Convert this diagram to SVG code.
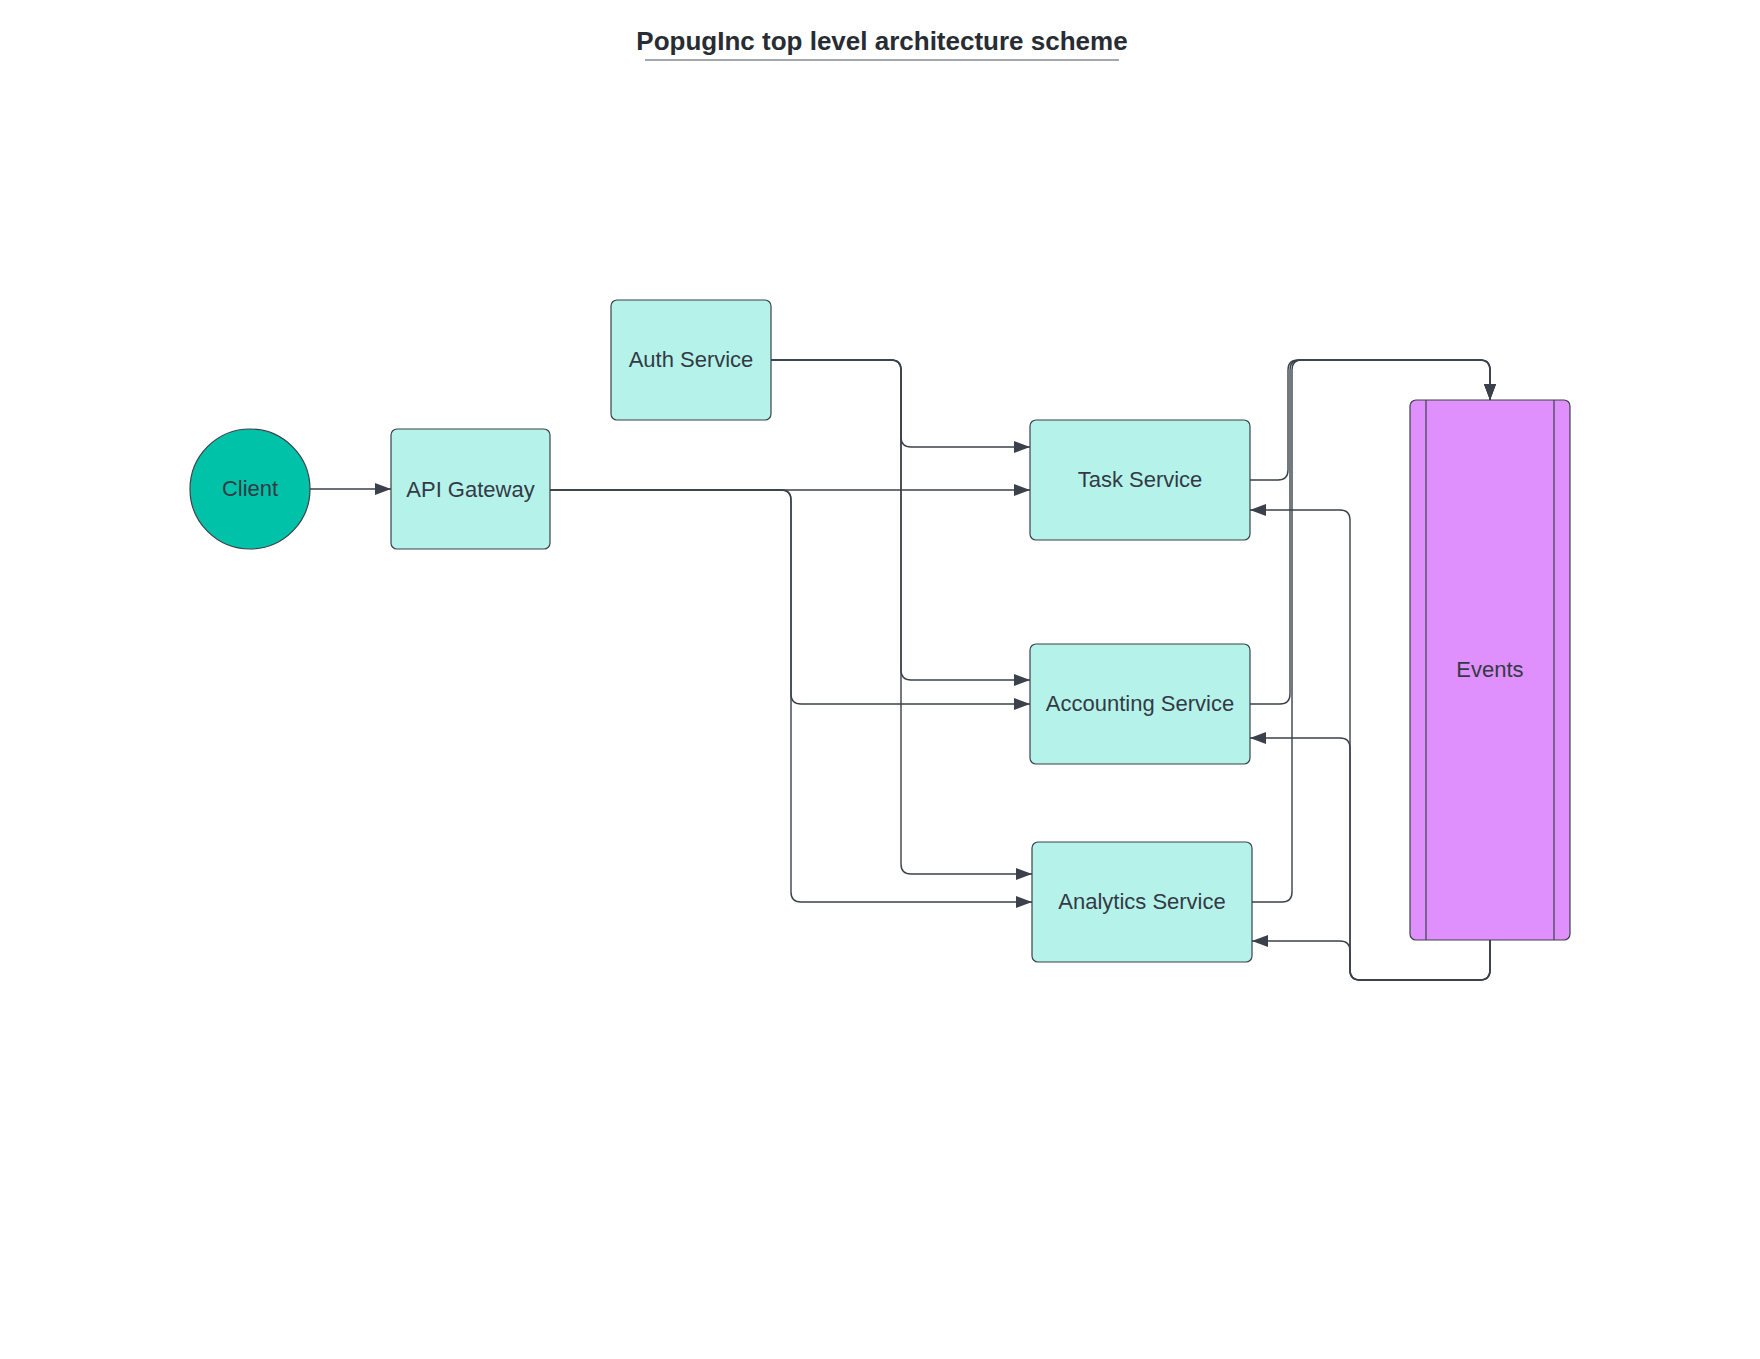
<svg xmlns="http://www.w3.org/2000/svg" width="1760" height="1359" viewBox="0 0 1760 1359">
<style>
.box{fill:#b5f3ea;stroke:#3a414a;stroke-width:1.2}
.lbl{font-family:"Liberation Sans",Arial,sans-serif;font-size:22px;fill:#333a45;text-anchor:middle}
.title{font-family:"Liberation Sans",Arial,sans-serif;font-size:26px;font-weight:bold;fill:#282c33;text-anchor:middle}
.conn{fill:none;stroke:#3a414a;stroke-width:1.4}
</style>
<defs>
<marker id="arr" markerUnits="userSpaceOnUse" markerWidth="17" markerHeight="13" refX="16" refY="6" orient="auto">
<path d="M0,0 L16,6 L0,12 z" fill="#3a414a"/>
</marker>
</defs>
<rect width="1760" height="1359" fill="#ffffff"/>
<g id="title">
<text class="title" x="882" y="50">PopugInc top level architecture scheme</text>
<line x1="645" y1="60" x2="1119" y2="60" stroke="#a3a8b0" stroke-width="2"/>
</g>
<g id="connectors">
<path class="conn" marker-end="url(#arr)" d="M310,489 L391,489"/>
<path class="conn" marker-end="url(#arr)" d="M550,490 L1030,490"/>
<path class="conn" marker-end="url(#arr)" d="M550,490 L781,490 Q791,490 791,500 L791,694 Q791,704 801,704 L1030,704"/>
<path class="conn" marker-end="url(#arr)" d="M550,490 L781,490 Q791,490 791,500 L791,892 Q791,902 801,902 L1032,902"/>
<path class="conn" marker-end="url(#arr)" d="M771,360 L891,360 Q901,360 901,370 L901,437 Q901,447 911,447 L1030,447"/>
<path class="conn" marker-end="url(#arr)" d="M771,360 L891,360 Q901,360 901,370 L901,670 Q901,680 911,680 L1030,680"/>
<path class="conn" marker-end="url(#arr)" d="M771,360 L891,360 Q901,360 901,370 L901,864 Q901,874 911,874 L1032,874"/>
<path class="conn" marker-end="url(#arr)" d="M1250,480 L1278,480 Q1288,480 1288,470 L1288,370 Q1288,360 1298,360 L1480,360 Q1490,360 1490,370 L1490,400"/>
<path class="conn" marker-end="url(#arr)" d="M1250,704 L1280,704 Q1290,704 1290,694 L1290,370 Q1290,360 1300,360 L1480,360 Q1490,360 1490,370 L1490,400"/>
<path class="conn" marker-end="url(#arr)" d="M1252,902 L1282,902 Q1292,902 1292,892 L1292,370 Q1292,360 1302,360 L1480,360 Q1490,360 1490,370 L1490,400"/>
<path class="conn" marker-end="url(#arr)" d="M1490,940 L1490,970 Q1490,980 1480,980 L1360,980 Q1350,980 1350,970 L1350,520 Q1350,510 1340,510 L1250,510"/>
<path class="conn" marker-end="url(#arr)" d="M1490,940 L1490,970 Q1490,980 1480,980 L1360,980 Q1350,980 1350,970 L1350,748 Q1350,738 1340,738 L1250,738"/>
<path class="conn" marker-end="url(#arr)" d="M1490,940 L1490,970 Q1490,980 1480,980 L1360,980 Q1350,980 1350,970 L1350,951 Q1350,941 1340,941 L1252,941"/>
</g>
<g id="client">
<circle cx="250" cy="489" r="60" fill="#00c2a8" stroke="#3a414a" stroke-width="1.2"/>
<text class="lbl" x="250" y="496">Client</text>
</g>
<g id="api-gateway">
<rect class="box" x="391" y="429" width="159" height="120" rx="6"/>
<text class="lbl" x="470.5" y="497">API Gateway</text>
</g>
<g id="auth-service">
<rect class="box" x="611" y="300" width="160" height="120" rx="6"/>
<text class="lbl" x="691" y="367">Auth Service</text>
</g>
<g id="task-service">
<rect class="box" x="1030" y="420" width="220" height="120" rx="6"/>
<text class="lbl" x="1140" y="487">Task Service</text>
</g>
<g id="accounting-service">
<rect class="box" x="1030" y="644" width="220" height="120" rx="6"/>
<text class="lbl" x="1140" y="711">Accounting Service</text>
</g>
<g id="analytics-service">
<rect class="box" x="1032" y="842" width="220" height="120" rx="6"/>
<text class="lbl" x="1142" y="909">Analytics Service</text>
</g>
<g id="events">
<rect x="1410" y="400" width="160" height="540" rx="6" fill="#e090fd" stroke="#3a414a" stroke-width="1.2"/>
<line x1="1426" y1="400" x2="1426" y2="940" stroke="#3a414a" stroke-width="1.2"/>
<line x1="1554" y1="400" x2="1554" y2="940" stroke="#3a414a" stroke-width="1.2"/>
<text class="lbl" x="1490" y="677">Events</text>
</g>
</svg>
